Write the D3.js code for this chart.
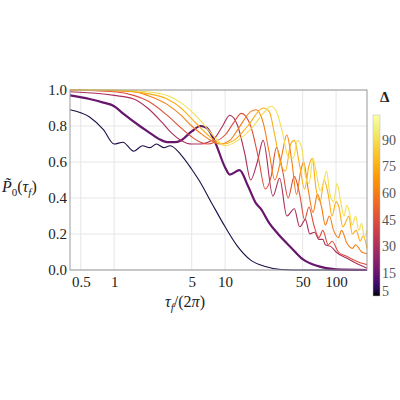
<!DOCTYPE html><html><head><script src="https://cdn.jsdelivr.net/npm/d3@7"></script>
<style>body{margin:0;background:#fff}svg text{font-family:"Liberation Serif","DejaVu Serif",serif !important}</style></head><body><svg id="c" width="400" height="400"></svg>
<script>
const deltas=[5,15,30,45,60,75,90];
const tau5=[0.4,0.6,0.8,1,1.2,1.5,1.8,2.1,2.4,2.8,3.2,4,5,5.8,7.6,10,13,17,23,32,50,100,190];
const p5=[0.89,0.85,0.78,0.70,0.71,0.66,0.69,0.68,0.70,0.68,0.69,0.64,0.56,0.5,0.37,0.24,0.13,0.055,0.02,0.003,0,0,0];
const tau15=[0.4,0.6,0.8,1,1.2,1.7,2,2.5,3,3.5,4,5,6,6.8,8,10,11,13.5,16,19,21,25,30,40,50,70,100,190];
const p15=[0.97,0.95,0.93,0.91,0.87,0.80,0.77,0.73,0.71,0.71,0.72,0.77,0.80,0.79,0.72,0.57,0.53,0.555,0.47,0.37,0.34,0.26,0.2,0.12,0.06,0.02,0.003,0];
const tau30=[0.4,1,1.5,2,2.7,3.3,4,5,6,7,8,9.5,11,13,15,17,19.5,22,27,31,36,42,47,53,58,64,70,76,80,90,100,130,160,190];
const p30=[0.99,0.97,0.95,0.9,0.82,0.76,0.72,0.70,0.70,0.71,0.73,0.80,0.86,0.80,0.65,0.5,0.6,0.72,0.41,0.51,0.3,0.34,0.24,0.28,0.2,0.21,0.17,0.17,0.14,0.13,0.1,0.06,0.03,0.01];
const tau45=[0.4,1,1.5,2,3,4,5,6,7,8,10,12,14,17,20,23,26,29,33,37,42,47,52,57,63,70,76,85,92,105,120,140,165,190];
const p45=[1,0.99,0.97,0.94,0.86,0.79,0.74,0.71,0.70,0.71,0.75,0.82,0.87,0.8,0.62,0.45,0.52,0.68,0.55,0.40,0.52,0.42,0.28,0.35,0.25,0.18,0.22,0.14,0.16,0.10,0.08,0.06,0.04,0.03];
const tau60=[0.4,1,1.5,2,3,4,5,6,7,9,11,13,17,19,22,25,28,32,36,40,44,48,51,56,62,68,74,80,87,95,105,112,125,140,150,170,190];
const p60=[1,0.995,0.99,0.97,0.92,0.86,0.8,0.76,0.73,0.70,0.72,0.78,0.88,0.89,0.82,0.65,0.5,0.62,0.75,0.6,0.42,0.55,0.6,0.45,0.32,0.42,0.35,0.25,0.3,0.22,0.18,0.22,0.15,0.12,0.14,0.1,0.09];
const tau75=[0.4,1,2,3,4,5,6,7,8,9.5,12,16,22,25,28,32,35,39,42,47,52,57,61,66,72,78,85,92,100,106,115,125,130,140,152,165,175,190];
const p75=[1,0.998,0.98,0.95,0.9,0.84,0.79,0.75,0.72,0.70,0.72,0.8,0.9,0.88,0.75,0.58,0.55,0.7,0.72,0.58,0.45,0.58,0.62,0.45,0.38,0.5,0.42,0.3,0.38,0.35,0.24,0.28,0.3,0.2,0.22,0.16,0.19,0.12];
const tau90=[0.4,1,2,3,4,5,6,7,8,10,13,18,22,26,29,33,37,41,45,49,53,57,62,66,72,78,82,88,95,102,110,118,125,132,140,150,160,170,180,190];
const p90=[1,1,0.99,0.97,0.93,0.88,0.83,0.78,0.74,0.69,0.72,0.8,0.87,0.91,0.88,0.76,0.63,0.62,0.72,0.68,0.52,0.48,0.62,0.55,0.44,0.5,0.55,0.42,0.38,0.48,0.38,0.3,0.36,0.32,0.25,0.3,0.22,0.26,0.18,0.22];
const taus=[tau5,tau15,tau30,tau45,tau60,tau75,tau90];
const ps=[p5,p15,p30,p45,p60,p75,p90];
const xTicks=[0.5,1,5,10,50,100];
const yTicks=[0,0.2,0.4,0.6,0.8,1.0];
const cbTicks=[5,15,30,45,60,75,90];

const svg=d3.select("#c");
const x=d3.scaleLog().domain([0.4,190]).range([70,367]);
const y=d3.scaleLinear().domain([0,1]).range([270,90]);
const cmax=104;
const col=v=>d3.interpolateInferno(Math.pow(Math.max(v-2,0)/(cmax-2),0.6));
const g=svg.append("g");
g.selectAll(".gx").data(xTicks).join("line").attr("x1",d=>x(d)).attr("x2",d=>x(d)).attr("y1",90).attr("y2",270).attr("stroke","#e6e6e6");
g.selectAll(".gy").data(yTicks).join("line").attr("x1",70).attr("x2",367).attr("y1",d=>y(d)).attr("y2",d=>y(d)).attr("stroke","#e6e6e6");
const line=d3.line().curve(d3.curveMonotoneX);
deltas.forEach((d,i)=>{
  g.append("path").attr("d",line(taus[i].map((t,j)=>[x(t),y(ps[i][j])]))).attr("fill","none")
   .attr("stroke",col(d)).attr("stroke-width",d===15?2.2:1.1);
});
svg.append("rect").attr("x",70).attr("y",90).attr("width",297).attr("height",180).attr("fill","none").attr("stroke","#999");
const xa=svg.append("g").attr("transform","translate(0,270)").call(d3.axisBottom(x).tickValues(xTicks).tickFormat(d3.format("")).tickSize(0).tickPadding(6));
const ya=svg.append("g").attr("transform","translate(70,0)").call(d3.axisLeft(y).tickValues(yTicks).tickFormat(d3.format(".1f")).tickSize(0).tickPadding(3));
[xa,ya].forEach(a=>{a.select(".domain").remove();a.attr("font-family",null);a.selectAll("text").attr("font-size",15).attr("fill","#222");});
svg.append("text").attr("x",185).attr("y",307).attr("text-anchor","middle").attr("font-size",16).attr("fill","#222")
 .html('<tspan font-style="italic">τ</tspan><tspan font-style="italic" font-size="11" dy="4">f</tspan><tspan dy="-4">/(2</tspan><tspan font-style="italic">π</tspan><tspan>)</tspan>');
svg.append("text").attr("x",2).attr("y",192).attr("font-size",16).attr("fill","#222")
 .html('<tspan font-style="italic">P̃</tspan><tspan font-size="11" dy="4">0</tspan><tspan dy="-4">(</tspan><tspan font-style="italic">τ</tspan><tspan font-style="italic" font-size="11" dy="4">f</tspan><tspan dy="-4">)</tspan>');
// colorbar
const cy=d3.scaleLinear().domain([2,cmax]).range([296,115]);
const defs=svg.append("defs");
const lg=defs.append("linearGradient").attr("id","gr").attr("x1",0).attr("y1",1).attr("x2",0).attr("y2",0);
d3.range(0,1.001,0.04).forEach(t=>lg.append("stop").attr("offset",t).attr("stop-color",col(2+t*(cmax-2))));
svg.append("rect").attr("x",373).attr("y",115).attr("width",7).attr("height",181).attr("fill","url(#gr)").attr("stroke","#bbb").attr("stroke-width",0.5);
svg.selectAll(".cbt").data(cbTicks).join("text").attr("x",382).attr("y",d=>cy(d)+5).attr("font-size",14).attr("fill","#555").text(d=>d);
svg.append("text").attr("x",380).attr("y",102).attr("font-size",15).attr("font-weight","bold").attr("fill","#222").text("Δ");
</script></body></html>
